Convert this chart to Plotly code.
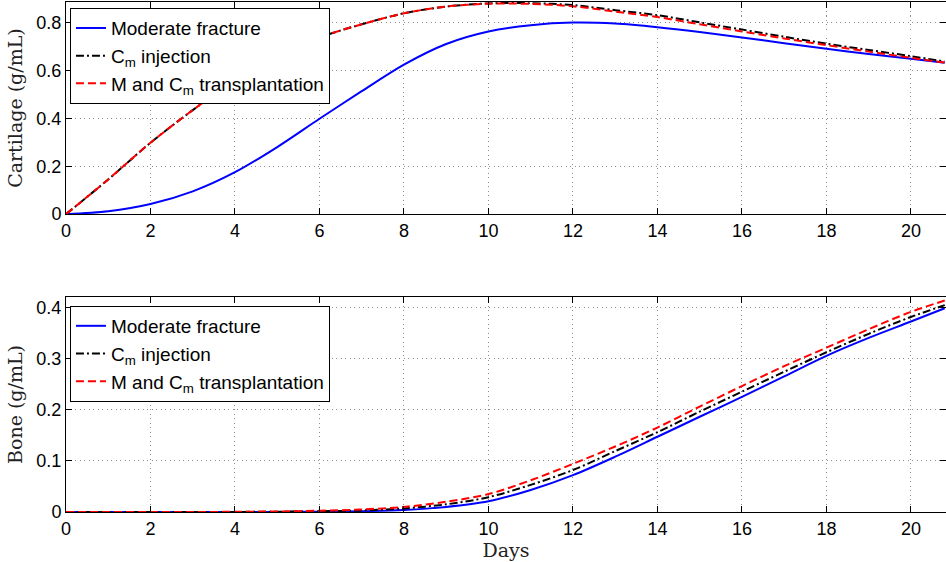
import plotly.graph_objects as go
from plotly.subplots import make_subplots

# Time axis (days)
days = [0, 1, 2, 3, 4, 5, 6, 7, 8, 9, 10, 11, 12, 13, 14, 15, 16, 17, 18, 19, 20, 20.8]

# Cartilage density (g/mL)
cart_moderate = [0, 0.012, 0.042, 0.095, 0.175, 0.28, 0.398, 0.513, 0.624, 0.71, 0.762, 0.788,
                 0.799, 0.795, 0.78, 0.76, 0.737, 0.713, 0.69, 0.668, 0.648, 0.632]
cart_cm_inj = [0, 0.145, 0.298, 0.434, 0.56, 0.66, 0.737, 0.792, 0.838, 0.866, 0.879, 0.880,
               0.872, 0.851, 0.83, 0.80, 0.77, 0.74, 0.711, 0.685, 0.659, 0.637]
cart_m_cm = [0, 0.145, 0.298, 0.434, 0.56, 0.66, 0.737, 0.792, 0.838, 0.866, 0.878, 0.877,
             0.867, 0.845, 0.822, 0.792, 0.762, 0.733, 0.705, 0.678, 0.652, 0.632]

# Bone density (g/mL)
bone_moderate = [0, 0, 0, 0, 0, 0.0002, 0.0006, 0.0015, 0.004, 0.010, 0.021, 0.043,
                 0.072, 0.108, 0.147, 0.186, 0.225, 0.265, 0.305, 0.34, 0.372, 0.398]
bone_cm_inj = [0, 0, 0, 0, 0.0002, 0.0005, 0.0015, 0.003, 0.007, 0.015, 0.029, 0.053,
               0.082, 0.119, 0.156, 0.196, 0.235, 0.274, 0.312, 0.348, 0.381, 0.404]
bone_m_cm = [0, 0, 0, 0, 0.0004, 0.001, 0.0025, 0.005, 0.010, 0.020, 0.035, 0.062,
             0.094, 0.128, 0.165, 0.206, 0.246, 0.285, 0.321, 0.357, 0.391, 0.413]

names = ["Moderate fracture", "C<sub>m</sub> injection", "M and C<sub>m</sub> transplantation"]
colors = ["#0000ff", "#000000", "#ff0000"]
dashes = ["solid", "8px,3px,2px,3px", "8px,4px"]

fig = make_subplots(rows=2, cols=1, vertical_spacing=0.16)

for i, ys in enumerate([cart_moderate, cart_cm_inj, cart_m_cm]):
    fig.add_trace(go.Scatter(x=days, y=ys, mode="lines", name=names[i],
                             line=dict(color=colors[i], width=2, dash=dashes[i], shape="spline",
                                       smoothing=0.9),
                             legend="legend"), row=1, col=1)
for i, ys in enumerate([bone_moderate, bone_cm_inj, bone_m_cm]):
    fig.add_trace(go.Scatter(x=days, y=ys, mode="lines", name=names[i],
                             line=dict(color=colors[i], width=2, dash=dashes[i], shape="spline",
                                       smoothing=0.9),
                             legend="legend2"), row=2, col=1)

axis_common = dict(showline=True, linecolor="black", linewidth=1, mirror="ticks",
                   ticks="inside", ticklen=6, tickcolor="black",
                   showgrid=True, gridcolor="#8c8c8c", griddash="1px,3.5px", gridwidth=1,
                   zeroline=False,
                   tickfont=dict(family="Liberation Sans, Arial", size=18, color="black"))

title_font = dict(family="DejaVu Serif", size=19, color="#222")

fig.update_xaxes(range=[0, 20.83], dtick=2, tick0=0, **axis_common)
fig.update_yaxes(**axis_common)
fig.update_yaxes(range=[0, 0.885], dtick=0.2, row=1, col=1,
                 title=dict(text="Cartilage (g/mL)", standoff=8, font=title_font))
fig.update_yaxes(range=[0, 0.42], dtick=0.1, row=2, col=1,
                 title=dict(text="Bone (g/mL)", standoff=8, font=title_font))
fig.update_xaxes(row=2, col=1,
                 title=dict(text="Days", standoff=2, font=title_font))

fig.update_layout(xaxis=dict(domain=[0, 1]), yaxis=dict(domain=[0.584, 1.0]),
                  xaxis2=dict(domain=[0, 1]), yaxis2=dict(domain=[0, 0.4216]))

legend_common = dict(bgcolor="white", bordercolor="black", borderwidth=1,
                     font=dict(family="Liberation Sans, Arial", size=19, color="black"),
                     xanchor="left", yanchor="top", tracegroupgap=0, itemwidth=30)
fig.update_layout(
    legend=dict(x=0.0045, y=0.988, **legend_common),
    legend2=dict(x=0.0045, y=0.404, **legend_common),
    width=946, height=562,
    margin=dict(l=66, r=0, t=2, b=50),
    plot_bgcolor="white", paper_bgcolor="white",
)

fig.write_html("out.html")
